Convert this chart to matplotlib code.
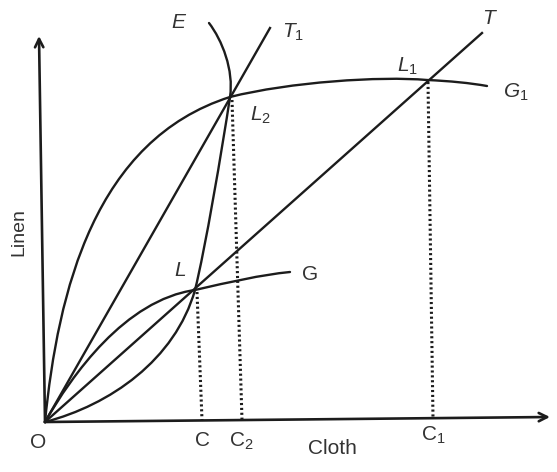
import matplotlib.pyplot as plt
from matplotlib.path import Path
from matplotlib.patches import PathPatch

plt.rcParams['font.family'] = ['Liberation Sans', 'DejaVu Sans']
plt.rcParams['mathtext.fontset'] = 'custom'
plt.rcParams['mathtext.rm'] = 'Liberation Sans'
plt.rcParams['mathtext.it'] = 'Liberation Sans:italic'

# =========================
# 数据（按图读出的坐标，像素系，y 向下）
# =========================
origin = (45, 422)
y_axis_top = (39, 36)
x_axis_end = (550, 417)

# 直线 OT 与 OT1
line_T_x = [45, 482]
line_T_y = [422, 33]
line_T1_x = [45, 270]
line_T1_y = [422, 28]

# 曲线（三次贝塞尔：起点、控制点、控制点、终点 ...）
curve_G1 = [(45, 422), (58, 290), (95, 140), (230, 97),
            (290, 82), (380, 76), (427, 80),
            (450, 81), (470, 83), (487, 86)]
curve_G = [(45, 422), (72, 375), (125, 300), (195, 290),
           (230, 282), (260, 275), (290, 272)]
curve_E = [(45, 422), (110, 405), (175, 360), (195, 290),
           (205, 250), (222, 150), (230, 97),
           (234, 70), (222, 40), (209, 23)]

# 虚线（均衡点到横轴）
drop_x = [[197, 202], [232, 242], [428, 433]]
drop_y = [[292, 420], [100, 420], [82, 418]]

# 标签
labels = ["E", "$T_1$", "$T$", "$L_1$", "$G_1$", "$L_2$", "$L$", "G",
          "O", "C", "$\\mathrm{C}_2$", "Cloth", "$\\mathrm{C}_1$"]
label_x = [178, 293, 490, 407, 516, 260, 180, 310,
           38, 202, 241, 332, 433]
label_y = [22, 32, 19, 66, 92, 115, 271, 274,
           442, 441, 441, 449, 435]

ink = '#1c1c1c'

fig = plt.figure(figsize=(5.57, 4.72), dpi=100)
ax = fig.add_axes([0, 0, 1, 1])
ax.set_xlim(0, 557)
ax.set_ylim(472, 0)
ax.axis('off')


def bezier(ax, pts):
    codes = [Path.MOVETO] + [Path.CURVE4] * (len(pts) - 1)
    ax.add_patch(PathPatch(Path(pts, codes), fill=False,
                           lw=1.7, edgecolor=ink, capstyle='round'))


# 坐标轴
ax.annotate("", xy=y_axis_top, xytext=origin,
            arrowprops=dict(arrowstyle='->,head_length=0.6,head_width=0.3',
                            lw=1.9, color=ink, shrinkA=0, shrinkB=0))
ax.annotate("", xy=x_axis_end, xytext=origin,
            arrowprops=dict(arrowstyle='->,head_length=0.6,head_width=0.3',
                            lw=1.9, color=ink, shrinkA=0, shrinkB=0))

ax.plot(line_T_x, line_T_y, color=ink, lw=1.7)
ax.plot(line_T1_x, line_T1_y, color=ink, lw=1.7)

bezier(ax, curve_G1)
bezier(ax, curve_G)
bezier(ax, curve_E)

for xs, ys in zip(drop_x, drop_y):
    ax.plot(xs, ys, color=ink, lw=2.2, linestyle=(0, (0.7, 0.9)))

for i, s in enumerate(labels):
    style = 'italic' if s == "E" else 'normal'
    ax.text(label_x[i], label_y[i], s, fontsize=15, style=style,
            ha='center', va='center', color='#333333')

ax.text(19, 232, "Linen", fontsize=14, rotation=90,
        ha='center', va='center', color='#333333')

fig.savefig("out.png", dpi=100)
